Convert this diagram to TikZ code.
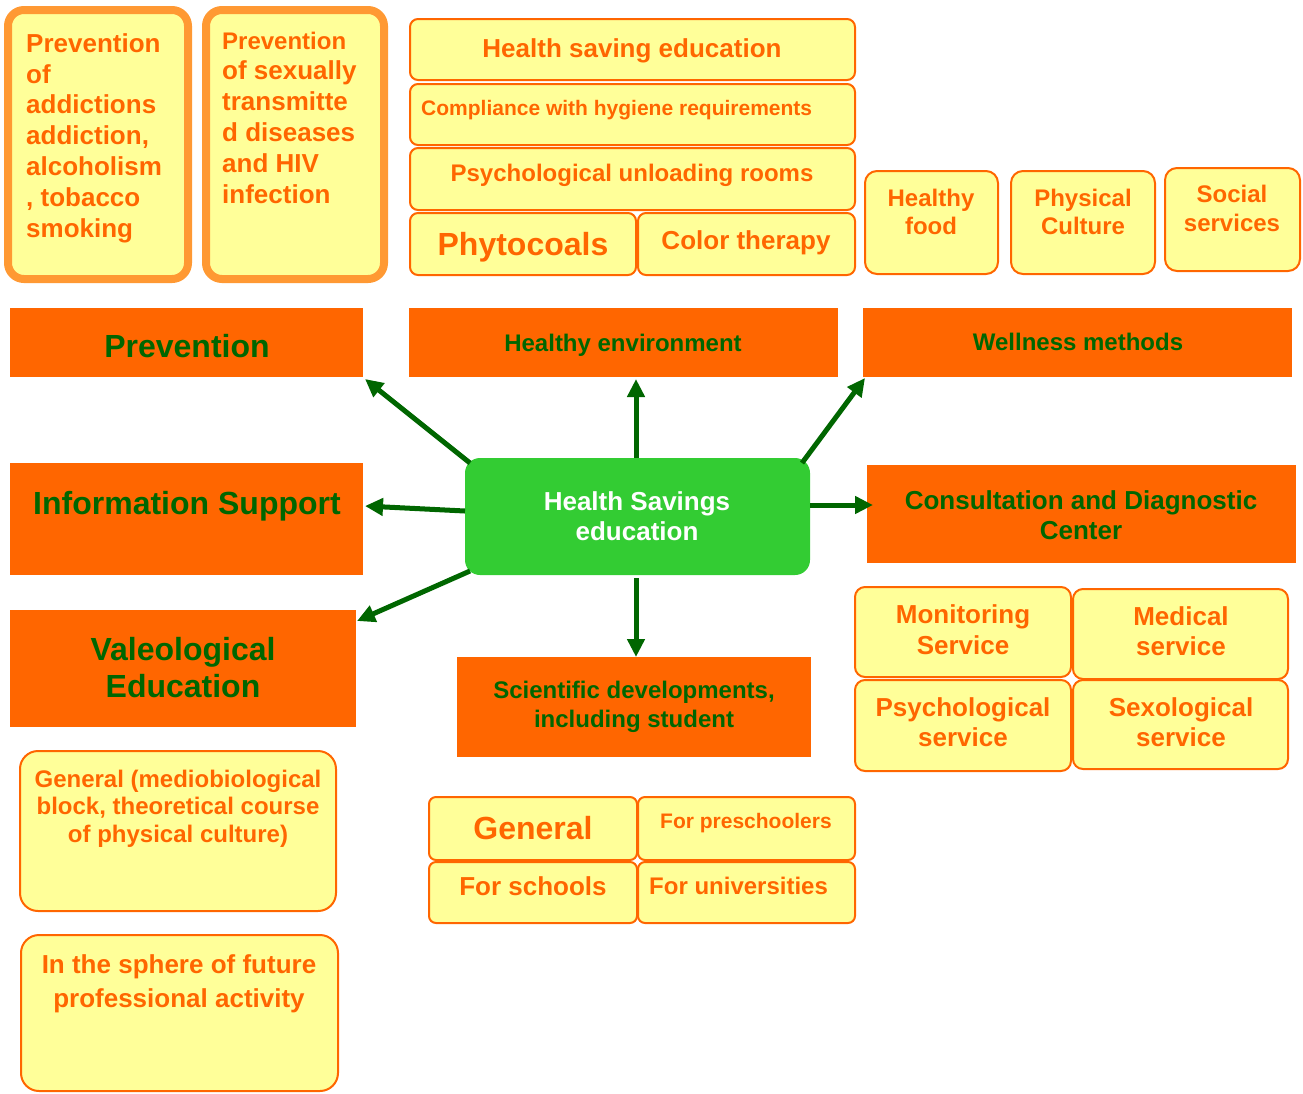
\documentclass[tikz,border=0pt]{standalone}
\usepackage{fontspec}
\setmainfont{Liberation Sans}
\usetikzlibrary{arrows.meta}
\definecolor{borange}{HTML}{FF6600}
\definecolor{lorange}{HTML}{FF9933}
\definecolor{lyellow}{HTML}{FFFF99}
\definecolor{dgreen}{HTML}{006600}
\definecolor{hubgreen}{HTML}{33CC33}
\newcommand\fsz[2]{\fontsize{#1}{#2}\selectfont}
\newcommand\rbox[6]{\node[#2, minimum width={#5-#3}, minimum height={#6-#4}] (#1) at ({(#3+#5)/2},{(#4+#6)/2}) {};}
\tikzset{
  ybox/.style={draw=borange, fill=lyellow, line width=2pt, rounded corners=#1, inner sep=0pt, outer sep=0pt},
  ybox/.default=8pt,
  tbox/.style={draw=lorange, fill=lyellow, line width=8pt, rounded corners=16pt, inner sep=0pt, outer sep=0pt},
  hdr/.style={fill=borange, inner sep=0pt, outer sep=0pt},
  hubbox/.style={fill=hubgreen, rounded corners=15pt, inner sep=0pt, outer sep=0pt},
  otxt/.style n args={2}{text=borange, inner sep=0pt, align=center, anchor=base, font=\bfseries\fsz{#1}{#2}},
  gtxt/.style n args={2}{text=dgreen, inner sep=0pt, align=center, anchor=base, font=\bfseries\fsz{#1}{#2}},
  wtxt/.style n args={2}{text=white, inner sep=0pt, align=center, anchor=base, font=\bfseries\fsz{#1}{#2}},
  arr/.style={draw=dgreen, line width=5pt, -{Triangle[length=18pt,width=17pt]}}
}
\begin{document}
\begin{tikzpicture}[x=1pt,y=-1pt]
\useasboundingbox (0,0) rectangle (1303,1093);
% top-left thick boxes
\rbox{bA}{tbox}{8}{10}{188}{279}
\rbox{bB}{tbox}{206}{10}{384}{279}
\node[otxt={26}{30.8}, align=left, anchor=base west] (tA) at (26,237) {Prevention\\of\\addictions\\addiction,\\alcoholism\\, tobacco\\smoking};
\node[otxt={26}{30.8}, align=left, anchor=base west] (tB) at (222,203) {{\fsz{24}{30.8}Prevention}\\of sexually\\transmitte\\d diseases\\and HIV\\infection};
% top stack
\rbox{hse}{ybox}{410}{19}{855}{80}
\rbox{comp}{ybox}{410}{84}{855}{145}
\rbox{psy}{ybox}{410}{148}{855}{210}
\rbox{phy}{ybox}{410}{213}{636}{275}
\rbox{col}{ybox}{638}{213}{855}{275}
\node[otxt={26}{30}] (thse) at (632,57) {Health saving education};
\node[otxt={21}{25}, anchor=base west] (tcomp) at (421,115) {Compliance with hygiene requirements};
\node[otxt={24}{28}] (tpsy) at (632,181) {Psychological unloading rooms};
\node[otxt={32}{36}] (tphy) at (523,255) {Phytocoals};
\node[otxt={26}{30}] (tcol) at (746,249) {Color therapy};
% right small boxes
\rbox{food}{ybox=12pt}{865}{171}{998}{274}
\rbox{phys}{ybox=12pt}{1011}{171}{1155}{274}
\rbox{soc}{ybox=12pt}{1165}{168}{1300}{271}
\node[otxt={24}{28.5}] (tfood) at (931,234.5) {Healthy\\food};
\node[otxt={24}{28.5}] (tphys) at (1083,234.5) {Physical\\Culture};
\node[otxt={24}{29}] (tsoc) at (1232,231) {Social\\services};
% orange headers
\rbox{prev}{hdr}{10}{308}{363}{377}
\rbox{env}{hdr}{409}{308}{838}{377}
\rbox{well}{hdr}{863}{308}{1292}{377}
\rbox{info}{hdr}{10}{463}{363}{575}
\rbox{valeo}{hdr}{10}{610}{356}{727}
\rbox{cons}{hdr}{867}{465}{1296}{563}
\rbox{sci}{hdr}{457}{657}{811}{757}
\node[gtxt={32}{36}] (tprev) at (187,357) {Prevention};
\node[gtxt={24}{28}] (tenv) at (623,351) {Healthy environment};
\node[gtxt={24}{28}] (twell) at (1078,350) {Wellness methods};
\node[gtxt={32}{36}] (tinfo) at (187,514) {Information Support};
\node[gtxt={32}{37}] (tvaleo) at (183,697) {Valeological\\Education};
\node[gtxt={26}{30}] (tcons) at (1081,539) {Consultation and Diagnostic\\Center};
\node[gtxt={24}{29}] (tsci) at (634,727) {Scientific developments,\\including student};
% hub
\rbox{hub}{hubbox}{465}{458}{810}{575}
\node[wtxt={26}{30}] (thub) at (637,540) {Health Savings\\education};
% arrows
\draw[arr] ([xshift=5pt,yshift=-5pt]hub.north west) -- ([xshift=2pt,yshift=-2pt]prev.south east);
\draw[arr] ([xshift=-1.5pt]hub.north) -- ([xshift=-1.5pt,yshift=-2pt]hub.north |- env.south);
\draw[arr] ([xshift=-8pt,yshift=-5pt]hub.north east) -- ([xshift=2pt,yshift=-1pt]well.south west);
\draw[arr] ([yshift=5.5pt]hub.west) -- ([xshift=2pt,yshift=13pt]info.east);
\draw[arr] ([xshift=5pt,yshift=4pt]hub.south west) -- ([xshift=1pt,yshift=-11pt]valeo.north east);
\draw[arr] ([yshift=11.5pt]hub.east) -- ([xshift=6pt,yshift=9pt]cons.west);
\draw[arr] ([xshift=-1.5pt,yshift=-3pt]hub.south) -- ([xshift=-1.5pt]hub.south |- sci.north);
% consultation sub-boxes
\rbox{mon}{ybox=10pt}{855}{587}{1071}{677}
\rbox{med}{ybox=10pt}{1073}{589}{1288}{679}
\rbox{psyc}{ybox=10pt}{855}{680}{1071}{771}
\rbox{sex}{ybox=10pt}{1073}{680}{1288}{769}
\node[otxt={26}{31}] (tmon) at (963,654) {Monitoring\\Service};
\node[otxt={26}{30}] (tmed) at (1181,655) {Medical\\service};
\node[otxt={26}{30}] (tpsyc) at (963,746) {Psychological\\service};
\node[otxt={26}{30}] (tsex) at (1181,746) {Sexological\\service};
% bottom middle boxes
\rbox{gen}{ybox=7pt}{429}{797}{637}{860}
\rbox{pre}{ybox=7pt}{638}{797}{855}{860}
\rbox{sch}{ybox=7pt}{429}{862}{637}{923}
\rbox{uni}{ybox=7pt}{638}{862}{855}{923}
\node[otxt={32}{36}] (tgen) at (533,839) {General};
\node[otxt={21}{25}] (tpre) at (746,828) {For preschoolers};
\node[otxt={26}{30}] (tsch) at (533,895) {For schools};
\node[otxt={24}{28}, anchor=base west] (tuni) at (649,894) {For universities};
% bottom left boxes
\rbox{lg}{ybox=18pt}{20}{751}{336}{911}
\rbox{sph}{ybox=18pt}{21}{935}{338}{1091}
\node[otxt={24}{27.5}] (tlg) at (178,842) {General (mediobiological\\block, theoretical course\\of physical culture)};
\node[otxt={26}{34}] (tsph) at (179,1007) {In the sphere of future\\professional activity};
\end{tikzpicture}
\end{document}
